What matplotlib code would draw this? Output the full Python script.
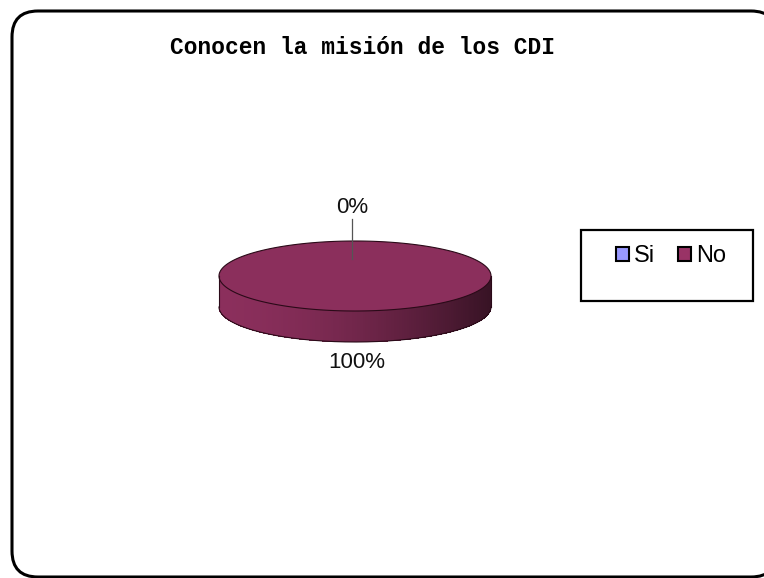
import numpy as np
import matplotlib
matplotlib.use("Agg")
import matplotlib.pyplot as plt
from matplotlib.patches import FancyBboxPatch, Polygon, Rectangle, Patch
from matplotlib.colors import to_rgb

# ---- data ----
title = "Conocen la misión de los CDI"
categories = ["Si", "No"]
values = [0, 100]
face_colors = ["#9999FF", "#8B2F5C"]
legend_colors = ["#9999FF", "#993366"]

W, H = 764, 578
fig = plt.figure(figsize=(W / 100, H / 100), dpi=100)

# ---- background frame (pixel coordinates) ----
bg = fig.add_axes([0, 0, 1, 1], zorder=0)
bg.set_xlim(0, W)
bg.set_ylim(H, 0)
bg.axis("off")
bg.add_patch(FancyBboxPatch((12, 11), 765, 566,
                            boxstyle="round,pad=0,rounding_size=26",
                            fc="white", ec="black", lw=2.2, clip_on=False))

# ---- pie axes: x unit = horizontal semi-axis, y unit = vertical semi-axis ----
cx, cy = 355, 276          # centre of top face, px
a_px, b_px = 136, 35       # semi-axes, px
depth = 31 / b_px          # side height in y-units
xl, xr = -1.3, 1.3
yb, yt = -2.9, 2.4
left = cx + xl * a_px
ax = fig.add_axes([left / W, 1 - (cy - yb * b_px) / H,
                   (xr - xl) * a_px / W, (yt - yb) * b_px / H], zorder=1)
ax.set_xlim(xl, xr)
ax.set_ylim(yb, yt)
ax.axis("off")

total = float(sum(values))
fracs = [v / total for v in values]
start = 90.0  # first slice starts at 12 o'clock, going clockwise
edge = "#2a0a18"

bounds = []
ang = start
for f in fracs:
    a0 = ang
    a1 = ang - 360.0 * f
    bounds.append((a0, a1))
    ang = a1


def shade(rgb, x):
    # darken from left to right across the front wall
    t = (x + 1) / 2.0
    k = 1.0 - 0.6 * t ** 1.7
    return tuple(np.clip(np.array(rgb) * k, 0, 1))


# side walls (front half only: angles between 180 and 360)
for (a0, a1), col in zip(bounds, face_colors):
    if a0 == a1:
        continue
    lo, hi = min(a0, a1), max(a0, a1)
    rgb = to_rgb(col)
    pieces = []
    for k in (-360, 0, 360):
        s = max(lo, 180 + k)
        e = min(hi, 360 + k)
        if e > s:
            pieces.append((s - k, e - k))
    for s, e in pieces:
        n = 160
        ts = np.linspace(np.radians(s), np.radians(e), n + 1)
        for i in range(n):
            t0, t1 = ts[i], ts[i + 1]
            xs = [np.cos(t0), np.cos(t1), np.cos(t1), np.cos(t0)]
            ys = [np.sin(t0), np.sin(t1), np.sin(t1) - depth, np.sin(t0) - depth]
            ax.add_patch(Polygon(np.column_stack([xs, ys]), closed=True,
                                 fc=shade(rgb, 0.5 * (np.cos(t0) + np.cos(t1))),
                                 ec="none", lw=0, antialiased=False))
        tt = np.linspace(np.radians(s), np.radians(e), 200)
        ax.plot(np.cos(tt), np.sin(tt) - depth, color=edge, lw=0.8)
ax.plot([-1, -1], [0, -depth], color=edge, lw=0.8)
ax.plot([1, 1], [0, -depth], color=edge, lw=0.8)

# top face wedges
for (a0, a1), col in zip(bounds, face_colors):
    if a0 == a1:
        continue
    tt = np.radians(np.linspace(a0, a1, 400))
    pts = np.column_stack([np.cos(tt), np.sin(tt)])
    if abs(a0 - a1) < 360:
        pts = np.vstack([[0, 0], pts])
    ax.add_patch(Polygon(pts, closed=True, fc=col, ec=edge, lw=0.8))

# percentage labels
for i, ((a0, a1), v) in enumerate(zip(bounds, values)):
    mid = np.radians((a0 + a1) / 2.0)
    s = np.sin(mid)
    lx = 1.15 * np.cos(mid)
    ly = 1.97 * s if s >= 0 else 2.46 * s
    dx = -0.02 if s >= 0 else 0.015
    pct = f"{100 * v / total:.0f}%"
    ax.text(lx + dx, ly, pct, ha="center", va="center",
            fontsize=16, family="Liberation Sans", color="#111111")
    if v == 0:
        ax.plot([lx + dx, lx + dx], [ly - 0.33, 0.5],
                color="#555555", lw=0.9)

# title
fig.text(363 / W, 1 - 48 / H, title, ha="center", va="center",
         fontsize=16.5, fontweight="bold", family="Liberation Mono")

# legend box and entries
bg.add_patch(Rectangle((581, 230), 172, 71, fc="white", ec="black", lw=1.6))
handles = [Patch(fc=c, ec="black", lw=1.5) for c in legend_colors]
fig.legend(handles, categories, loc="center",
           bbox_to_anchor=(671 / W, 1 - 256 / H), ncol=2, frameon=False,
           prop={"family": "Liberation Sans", "size": 17},
           handlelength=0.55, handleheight=0.55, handletextpad=0.2,
           columnspacing=1.0, borderpad=0)

fig.savefig("out.png", dpi=100, facecolor="white")
